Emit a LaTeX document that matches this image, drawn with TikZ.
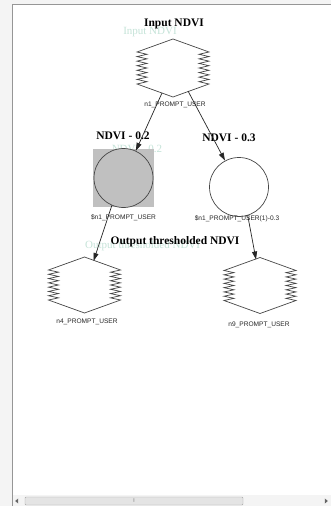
\documentclass[tikz,border=0pt]{standalone}
\usepackage{fontspec}
\setmainfont{Liberation Serif}
\newfontfamily\labelfont{Liberation Sans}
\usetikzlibrary{arrows.meta,calc,shapes.geometric}
\definecolor{framebg}{RGB}{244,244,244}
\definecolor{frameline}{RGB}{150,150,150}
\definecolor{nodegray}{RGB}{192,192,192}
\definecolor{outline}{RGB}{70,70,70}
\definecolor{ghostcol}{RGB}{150,205,185}
\definecolor{thumbcol}{RGB}{228,228,228}
\tikzset{
  hexnode/.style={minimum width=72pt, minimum height=#1, inner sep=0pt, outer sep=0pt},
  hexline/.style={draw=outline, line width=0.7pt, line join=miter},
  circnode/.style={circle, draw=outline, line width=0.7pt, minimum size=59pt, inner sep=0pt},
  sqnode/.style={fill=nodegray, minimum width=61pt, minimum height=58pt, inner sep=0pt},
  edge/.style={draw=black!85, line width=0.7pt, -{Triangle[length=8pt,width=5pt]}},
  title/.style={font=\fontsize{11.5}{13}\selectfont\bfseries, text=black, inner sep=0pt},
  ghost/.style={font=\fontsize{11}{13}\selectfont, text=ghostcol, opacity=0.55, inner sep=0pt},
  lab/.style={font=\labelfont\fontsize{6.6}{8}\selectfont, text=black!85, inner sep=0pt},
  arrowtri/.style={fill=black!60, isosceles triangle, isosceles triangle apex angle=80, minimum size=3pt, inner sep=0pt},
}
\newcommand{\zzhex}[2]{%
  \pgfmathsetmacro{\zs}{#2/14}%
  \draw[hexline] (#1.north) -- ++(-36,13)
    \foreach \i in {1,...,7}{ -- ++(10,\zs) -- ++(-10,\zs)}
    -- (#1.south) -- ++(36,-13)
    \foreach \i in {1,...,7}{ -- ++(-10,-\zs) -- ++(10,-\zs)}
    -- cycle;}
\begin{document}
\begin{tikzpicture}[x=1pt,y=-1pt]
\useasboundingbox (0,0) rectangle (331,506);
% window frame
\fill[framebg] (0,0) rectangle (331,506);
\fill[white] (12,4) rectangle (331,495);
\draw[frameline, line width=1pt] (12,506) -- (12,4) -- (331,4);
% scrollbar
\fill[framebg] (13,495) rectangle (331,506);
\node[draw=black!35, fill=thumbcol, minimum width=218pt, minimum height=8pt, inner sep=0pt, rounded corners=1pt] (thumb) at (134,501) {};
\node[font=\fontsize{4}{4}\selectfont, text=black!50, inner sep=0pt] (grip) at (thumb.center) {|||};
\node[arrowtri, shape border rotate=180] (larr) at (17,501) {};
\node[arrowtri] (rarr) at (326,501) {};

% ghost texts
\node[ghost] (g1) at (150,32) {Input NDVI};
\node[ghost] (g2) at (137,149) {NDVI - 0.2};
\node[ghost, anchor=west] (g3) at (85,246) {Output thresholded NDVI};

% nodes
\node[hexnode=58pt] (n1) at (173,68) {};
\zzhex{n1}{32}
\node[sqnode] (n2sq) at (123.5,178) {};
\node[circnode, fill=nodegray] (n2) at (123.5,178) {};
\node[circnode, fill=white] (n3) at (239,187) {};
\node[hexnode=56pt] (n4) at (84.5,285) {};
\zzhex{n4}{30}
\node[hexnode=56pt] (n9) at (260,285.5) {};
\zzhex{n9}{30}

% titles
\node[title] (t1) at (174,24) {Input NDVI};
\node[title] (t2) at (123,136) {NDVI - 0.2};
\node[title] (t3) at (229,138) {NDVI - 0.3};
\node[title] (t4) at (175,242) {Output thresholded NDVI};

% node labels
\node[lab] (l1) at (175,105) {n1\_PROMPT\_USER};
\node[lab] (l2) at (123.5,218) {\$n1\_PROMPT\_USER};
\node[lab] (l3) at (237,219) {\$n1\_PROMPT\_USER(1)-0.3};
\node[lab] (l4) at (87,322) {n4\_PROMPT\_USER};
\node[lab] (l9) at (259,325) {n9\_PROMPT\_USER};

% edges
\draw[edge] ([xshift=-11pt,yshift=4pt]n1.south) -- (n2);
\draw[edge] ([xshift=15pt,yshift=6pt]n1.south) -- (n3);
\draw[edge] (n2.-113) -- ([xshift=9pt,yshift=-4pt]n4.north);
\draw[edge] (n3.-73) -- ([xshift=-4pt,yshift=-2pt]n9.north);
\end{tikzpicture}
\end{document}
